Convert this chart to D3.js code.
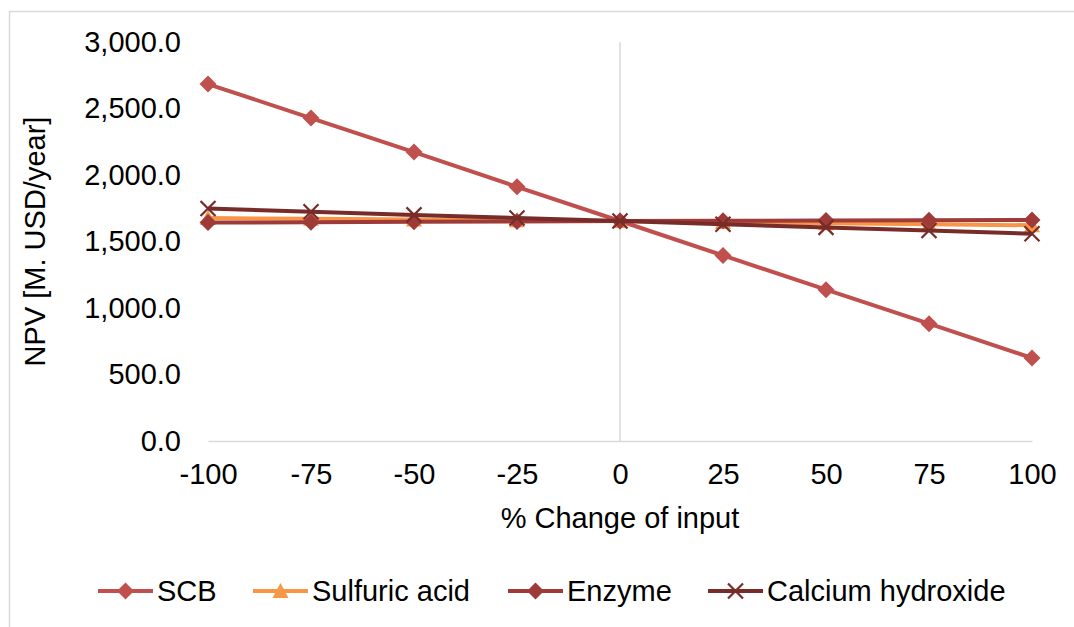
<!DOCTYPE html>
<html>
<head>
<meta charset="utf-8">
<script src="https://cdn.jsdelivr.net/npm/d3@7"></script>
<style>
  html, body { margin: 0; padding: 0; background: #fff; }
  svg { display: block; font-family: "Liberation Sans", Arial, sans-serif; }
</style>
</head>
<body>
<svg id="chart" width="1074" height="627"></svg>
<script>
// Sensitivity of NPV to change of each input
const changes = [-100, -75, -50, -25, 0, 25, 50, 75, 100];
const scb       = [2684, 2428, 2172, 1911, 1654, 1395, 1138, 882, 624];
const sulfuric  = [1676, 1671, 1666, 1660, 1654, 1646, 1638, 1630, 1622];
const enzyme    = [1642, 1645, 1648, 1651, 1654, 1656, 1658, 1660, 1662];
const calcium   = [1748, 1724, 1700, 1677, 1654, 1630, 1606, 1582, 1558];
const seriesNames = ["SCB", "Sulfuric acid", "Enzyme", "Calcium hydroxide"];
const seriesColors = ["#C0504D", "#F79646", "#9E3A38", "#772C2A"];
const seriesMarkers = ["diamond", "triangle", "diamond", "x"];
const yTicks = [0, 500, 1000, 1500, 2000, 2500, 3000];
const xTicks = changes;

const FONT = 29;

const series = [scb, sulfuric, enzyme, calcium].map((vals, i) => ({
  name: seriesNames[i], color: seriesColors[i], marker: seriesMarkers[i],
  points: vals.map((v, j) => ({ x: changes[j], y: v }))
}));

const svg = d3.select("#chart");

// chart area frame
svg.append("rect")
  .attr("x", 9.5).attr("y", 11.5).attr("width", 1080).attr("height", 630)
  .attr("fill", "none").attr("stroke", "#D9D9D9").attr("stroke-width", 1.5);

const x = d3.scaleLinear().domain([-100, 100]).range([208, 1032]);
const y = d3.scaleLinear().domain([0, 3000]).range([441, 42]);

// horizontal axis at y = 0
svg.append("g")
  .attr("transform", `translate(0,${y(0)})`)
  .call(d3.axisBottom(x).tickValues(xTicks).tickSize(0).tickPadding(22).tickFormat(d => String(d)))
  .call(g => g.select(".domain").attr("stroke", "#D9D9D9").attr("stroke-width", 1.5))
  .call(g => g.selectAll("text").attr("font-size", FONT).attr("font-family", "Liberation Sans, Arial, sans-serif").attr("fill", "#000"));

// vertical axis line crossing at 0
svg.append("line")
  .attr("x1", x(0)).attr("x2", x(0)).attr("y1", y(3000)).attr("y2", y(0))
  .attr("stroke", "#D9D9D9").attr("stroke-width", 1.5);

// y tick labels
svg.append("g")
  .attr("transform", `translate(${x(-100)},0)`)
  .call(d3.axisLeft(y).tickValues(yTicks).tickSize(0).tickPadding(27).tickFormat(d3.format(",.1f")))
  .call(g => g.select(".domain").remove())
  .call(g => g.selectAll("text").attr("font-size", FONT).attr("font-family", "Liberation Sans, Arial, sans-serif").attr("fill", "#000"));

// axis titles
svg.append("text")
  .attr("x", x(0)).attr("y", 528)
  .attr("text-anchor", "middle").attr("font-size", FONT).attr("fill", "#000")
  .text("% Change of input");
svg.append("text")
  .attr("transform", `translate(45,${y(1500)}) rotate(-90)`)
  .attr("text-anchor", "middle").attr("font-size", FONT).attr("fill", "#000")
  .text("NPV [M. USD/year]");

function markerPath(type) {
  if (type === "diamond") return "M0,-8.5L8.5,0L0,8.5L-8.5,0Z";
  if (type === "triangle") return "M0,-8L8,7L-8,7Z";
  return "M-7.5,-7.5L7.5,7.5M-7.5,7.5L7.5,-7.5";
}
function drawMarker(sel, s) {
  const p = sel.append("path").attr("d", markerPath(s.marker));
  if (s.marker === "x") p.attr("fill", "none").attr("stroke", s.color).attr("stroke-width", 2.2);
  else p.attr("fill", s.color).attr("stroke", "none");
}

const line = d3.line().x(d => x(d.x)).y(d => y(d.y));

series.forEach(s => {
  const g = svg.append("g");
  g.append("path").datum(s.points)
    .attr("d", line).attr("fill", "none")
    .attr("stroke", s.color).attr("stroke-width", 4).attr("stroke-linejoin", "round");
  g.selectAll("g.m").data(s.points).join("g")
    .attr("class", "m")
    .attr("transform", d => `translate(${x(d.x)},${y(d.y)})`)
    .each(function() { drawMarker(d3.select(this), s); });
});

// legend
const legendX = [98, 253, 508, 708];
series.forEach((s, i) => {
  const g = svg.append("g").attr("transform", `translate(${legendX[i]},591)`);
  g.append("line").attr("x1", 0).attr("x2", 55).attr("y1", 0).attr("y2", 0)
    .attr("stroke", s.color).attr("stroke-width", 4);
  drawMarker(g.append("g").attr("transform", "translate(27.5,0)"), s);
  g.append("text").attr("x", 59).attr("y", 0).attr("dy", "0.36em")
    .attr("font-size", FONT).attr("fill", "#000").text(s.name);
});
</script>
</body>
</html>
